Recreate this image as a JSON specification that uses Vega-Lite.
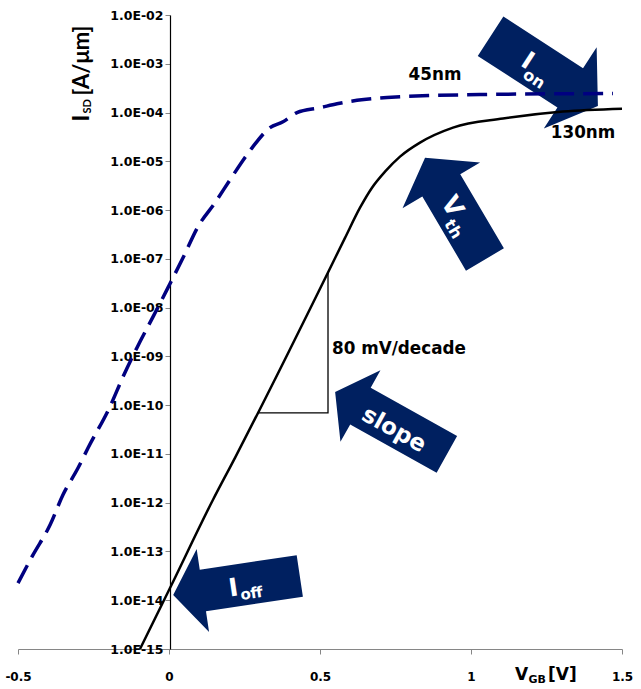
{
  "$schema": "https://vega.github.io/schema/vega-lite/v6.json",
  "width": 604,
  "height": 634,
  "autosize": "none",
  "padding": {"left": 18, "top": 15, "right": 19, "bottom": 40},
  "background": "white",
  "config": {"font": "DejaVu Sans", "view": {"stroke": null}},
  "datasets": {
    "solid": [
      {"x": -0.096, "y": 1.0e-15},
      {"x": 0.0033, "y": 1.78e-14},
      {"x": 0.1457, "y": 1.15e-12},
      {"x": 0.2185, "y": 8.32e-12},
      {"x": 0.2947, "y": 6.92e-11},
      {"x": 0.5265, "y": 5.25e-8},
      {"x": 0.5828, "y": 2.69e-7},
      {"x": 0.6325, "y": 1.12e-6},
      {"x": 0.6722, "y": 2.88e-6},
      {"x": 0.7152, "y": 6.14e-6},
      {"x": 0.7649, "y": 1.25e-5},
      {"x": 0.8311, "y": 2.42e-5},
      {"x": 0.9404, "y": 4.91e-5},
      {"x": 1.106, "y": 7.52e-5},
      {"x": 1.3046, "y": 1.05e-4},
      {"x": 1.5, "y": 1.2e-4}
    ],
    "dashed": [
      {"x": -0.5, "y": 2.24e-14},
      {"x": -0.4503, "y": 8.51e-14},
      {"x": -0.394, "y": 3.47e-13},
      {"x": -0.351, "y": 1.45e-12},
      {"x": -0.3013, "y": 5.13e-12},
      {"x": -0.2682, "y": 1.32e-11},
      {"x": -0.1954, "y": 9.33e-11},
      {"x": -0.1523, "y": 3.8e-10},
      {"x": -0.106, "y": 1.51e-9},
      {"x": -0.053, "y": 6.46e-9},
      {"x": -0.0033, "y": 2.57e-8},
      {"x": 0.0464, "y": 1.05e-7},
      {"x": 0.096, "y": 4.57e-7},
      {"x": 0.1523, "y": 1.41e-6},
      {"x": 0.202, "y": 4.17e-6},
      {"x": 0.2517, "y": 1.2e-5},
      {"x": 0.2781, "y": 2.0e-5},
      {"x": 0.3344, "y": 4.9e-5},
      {"x": 0.3775, "y": 6.46e-5},
      {"x": 0.4238, "y": 1.0e-4},
      {"x": 0.5, "y": 1.26e-4},
      {"x": 0.5563, "y": 1.51e-4},
      {"x": 0.6225, "y": 1.78e-4},
      {"x": 0.7219, "y": 2.04e-4},
      {"x": 1.0298, "y": 2.34e-4},
      {"x": 1.4702, "y": 2.45e-4}
    ],
    "triangle": [
      {"x": 0.2947, "y": 6.92e-11, "o": 1},
      {"x": 0.5265, "y": 6.92e-11, "o": 2},
      {"x": 0.5265, "y": 5.25e-8, "o": 3}
    ],
    "arrows": [
      {"id": "on", "x": 1.2425, "y": 7.1e-4},
      {"id": "th", "x": 0.947, "y": 1.07e-6},
      {"id": "slope", "x": 0.7351, "y": 4.28e-11},
      {"id": "off", "x": 0.2235, "y": 2.01e-14}
    ],
    "anchors": [
      {"id": "45nm", "x": 0.8808, "y": 6.01e-4, "text": "45nm"},
      {"id": "130nm", "x": 1.3709, "y": 3.88e-5, "text": "130nm"},
      {"id": "decade", "x": 0.5397, "y": 1.43e-9, "text": "80 mV/decade"},
      {"id": "ytitle", "x": -0.288, "y": 6.52e-5, "text": ""},
      {"id": "xtitle", "x": 1.1457, "y": 3.0e-16, "text": ""},
      {"id": "on", "x": 1.188, "y": 1.15e-3, "text": ""},
      {"id": "th", "x": 0.938, "y": 1.19e-6, "text": ""},
      {"id": "slope", "x": 0.745, "y": 3.12e-11, "text": "slope"},
      {"id": "off", "x": 0.2136, "y": 1.79e-14, "text": ""}
    ]
  },
  "encoding": {
    "x": {
      "field": "x", "type": "quantitative",
      "scale": {"domain": [-0.5, 1.5], "nice": false, "zero": false},
      "axis": {
        "title": null, "grid": false, "values": [-0.5, 0, 0.5, 1, 1.5],
        "labelExpr": "'' + datum.value",
        "labelFlush": false, "labelOverlap": false, "labelDx": 5,
        "labelFont": "DejaVu Sans", "labelFontWeight": "bold", "labelFontSize": 12, "labelColor": "black",
        "labelPadding": 17,
        "domainColor": "#868686", "domainWidth": 1.2,
        "tickColor": "#868686", "tickSize": 5, "tickWidth": 1
      }
    },
    "y": {
      "field": "y", "type": "quantitative",
      "scale": {"type": "log", "domain": [1e-15, 1e-2], "nice": false},
      "axis": {
        "title": null, "grid": false, "offset": -152,
        "values": [1e-15, 1e-14, 1e-13, 1e-12, 1e-11, 1e-10, 1e-9, 1e-8, 1e-7, 1e-6, 1e-5, 1e-4, 1e-3, 1e-2],
        "labelExpr": "'1.0E-' + ((-round(log(datum.value)/LN10)) < 10 ? '0' : '') + (-round(log(datum.value)/LN10))",
        "labelFlush": false, "labelOverlap": false,
        "labelFont": "DejaVu Sans", "labelFontWeight": "bold", "labelFontSize": 12.5, "labelColor": "black",
        "labelPadding": 2,
        "domainColor": "black", "domainWidth": 1.2,
        "tickColor": "#868686", "tickSize": 5, "tickWidth": 1
      }
    }
  },
  "layer": [
    {
      "data": {"name": "arrows"},
      "transform": [{"filter": "datum.id === 'on'"}],
      "mark": {"type": "point", "shape": "M-64,-23.5L31,-23.5L31,-48.5L64,0L31,48.5L31,23.5L-64,23.5Z", "size": 4, "filled": true, "fill": "#002060", "opacity": 1, "strokeWidth": 0, "angle": 33}
    },
    {
      "data": {"name": "arrows"},
      "transform": [{"filter": "datum.id === 'th'"}],
      "mark": {"type": "point", "shape": "M-59,-22L27,-22L27,-45L59,0L27,45L27,22L-59,22Z", "size": 4, "filled": true, "fill": "#002060", "opacity": 1, "strokeWidth": 0, "angle": 239.5}
    },
    {
      "data": {"name": "arrows"},
      "transform": [{"filter": "datum.id === 'slope'"}],
      "mark": {"type": "point", "shape": "M-64,-21L35,-21L35,-41L64,0L35,41L35,21L-64,21Z", "size": 4, "filled": true, "fill": "#002060", "opacity": 1, "strokeWidth": 0, "angle": 209.2}
    },
    {
      "data": {"name": "arrows"},
      "transform": [{"filter": "datum.id === 'off'"}],
      "mark": {"type": "point", "shape": "M-64,-21L34,-21L34,-42L64,0L34,42L34,21L-64,21Z", "size": 4, "filled": true, "fill": "#002060", "opacity": 1, "strokeWidth": 0, "angle": 171.5}
    },
    {
      "data": {"name": "triangle"},
      "mark": {"type": "line", "color": "black", "strokeWidth": 1.3},
      "encoding": {"order": {"field": "o", "type": "quantitative"}}
    },
    {
      "data": {"name": "solid"},
      "mark": {"type": "line", "color": "black", "strokeWidth": 2.5, "interpolate": "monotone"}
    },
    {
      "data": {"name": "dashed"},
      "mark": {"type": "line", "color": "#000080", "strokeWidth": 3.5, "strokeDash": [20, 9], "interpolate": "monotone"}
    },
    {
      "data": {"name": "anchors"},
      "transform": [{"filter": "datum.id === '45nm' || datum.id === '130nm'"}],
      "mark": {"type": "text", "font": "DejaVu Sans", "fontWeight": "bold", "fontSize": 16.8, "color": "black", "align": "center", "baseline": "middle"},
      "encoding": {"text": {"field": "text"}}
    },
    {
      "data": {"name": "anchors"},
      "transform": [{"filter": "datum.id === 'decade'"}],
      "mark": {"type": "text", "font": "DejaVu Sans", "fontWeight": "bold", "fontSize": 16.8, "color": "black", "align": "left", "baseline": "middle"},
      "encoding": {"text": {"field": "text"}}
    },
    {
      "data": {"name": "anchors"},
      "transform": [{"filter": "datum.id === 'ytitle'"}],
      "mark": {"type": "text", "text": "I", "font": "Lato", "fontWeight": "bold", "fontSize": 23, "color": "black", "align": "left", "baseline": "middle", "angle": 270}
    },
    {
      "data": {"name": "anchors"},
      "transform": [{"filter": "datum.id === 'ytitle'"}],
      "mark": {"type": "text", "text": "SD", "font": "Lato", "fontWeight": "bold", "fontSize": 11, "color": "black", "align": "left", "baseline": "middle", "angle": 270, "dx": 8, "dy": 6}
    },
    {
      "data": {"name": "anchors"},
      "transform": [{"filter": "datum.id === 'ytitle'"}],
      "mark": {"type": "text", "text": "[A/μm]", "font": "Lato", "fontWeight": "bold", "fontSize": 22, "color": "black", "align": "left", "baseline": "middle", "angle": 270, "dx": 26}
    },
    {
      "data": {"name": "anchors"},
      "transform": [{"filter": "datum.id === 'xtitle'"}],
      "mark": {"type": "text", "text": "V", "font": "DejaVu Sans", "fontWeight": "bold", "fontSize": 17, "color": "black", "align": "left", "baseline": "middle"}
    },
    {
      "data": {"name": "anchors"},
      "transform": [{"filter": "datum.id === 'xtitle'"}],
      "mark": {"type": "text", "text": "GB", "font": "DejaVu Sans", "fontWeight": "bold", "fontSize": 11, "color": "black", "align": "left", "baseline": "middle", "dx": 13.5, "dy": 5}
    },
    {
      "data": {"name": "anchors"},
      "transform": [{"filter": "datum.id === 'xtitle'"}],
      "mark": {"type": "text", "text": "[V]", "font": "DejaVu Sans", "fontWeight": "bold", "fontSize": 17, "color": "black", "align": "left", "baseline": "middle", "dx": 33}
    },
    {
      "data": {"name": "anchors"},
      "transform": [{"filter": "datum.id === 'on'"}],
      "mark": {"type": "text", "text": "I", "font": "DejaVu Sans", "fontWeight": "bold", "fontSize": 25, "color": "white", "align": "center", "baseline": "middle", "angle": 33}
    },
    {
      "data": {"name": "anchors"},
      "transform": [{"filter": "datum.id === 'on'"}],
      "mark": {"type": "text", "text": "on", "font": "DejaVu Sans", "fontWeight": "bold", "fontSize": 16, "color": "white", "align": "center", "baseline": "middle", "angle": 33, "dx": 15, "dy": 12}
    },
    {
      "data": {"name": "anchors"},
      "transform": [{"filter": "datum.id === 'th'"}],
      "mark": {"type": "text", "text": "V", "font": "DejaVu Sans", "fontWeight": "bold", "fontSize": 25, "color": "white", "align": "center", "baseline": "middle", "angle": 59.5}
    },
    {
      "data": {"name": "anchors"},
      "transform": [{"filter": "datum.id === 'th'"}],
      "mark": {"type": "text", "text": "th", "font": "DejaVu Sans", "fontWeight": "bold", "fontSize": 16, "color": "white", "align": "center", "baseline": "middle", "angle": 59.5, "dx": 20, "dy": 11}
    },
    {
      "data": {"name": "anchors"},
      "transform": [{"filter": "datum.id === 'slope'"}],
      "mark": {"type": "text", "font": "DejaVu Sans", "fontWeight": "bold", "fontSize": 23, "color": "white", "align": "center", "baseline": "middle", "angle": 29},
      "encoding": {"text": {"field": "text"}}
    },
    {
      "data": {"name": "anchors"},
      "transform": [{"filter": "datum.id === 'off'"}],
      "mark": {"type": "text", "text": "I", "font": "DejaVu Sans", "fontWeight": "bold", "fontSize": 25, "color": "white", "align": "center", "baseline": "middle", "angle": -8.5}
    },
    {
      "data": {"name": "anchors"},
      "transform": [{"filter": "datum.id === 'off'"}],
      "mark": {"type": "text", "text": "off", "font": "DejaVu Sans", "fontWeight": "bold", "fontSize": 15, "color": "white", "align": "center", "baseline": "middle", "angle": -8.5, "dx": 17, "dy": 8}
    }
  ]
}
